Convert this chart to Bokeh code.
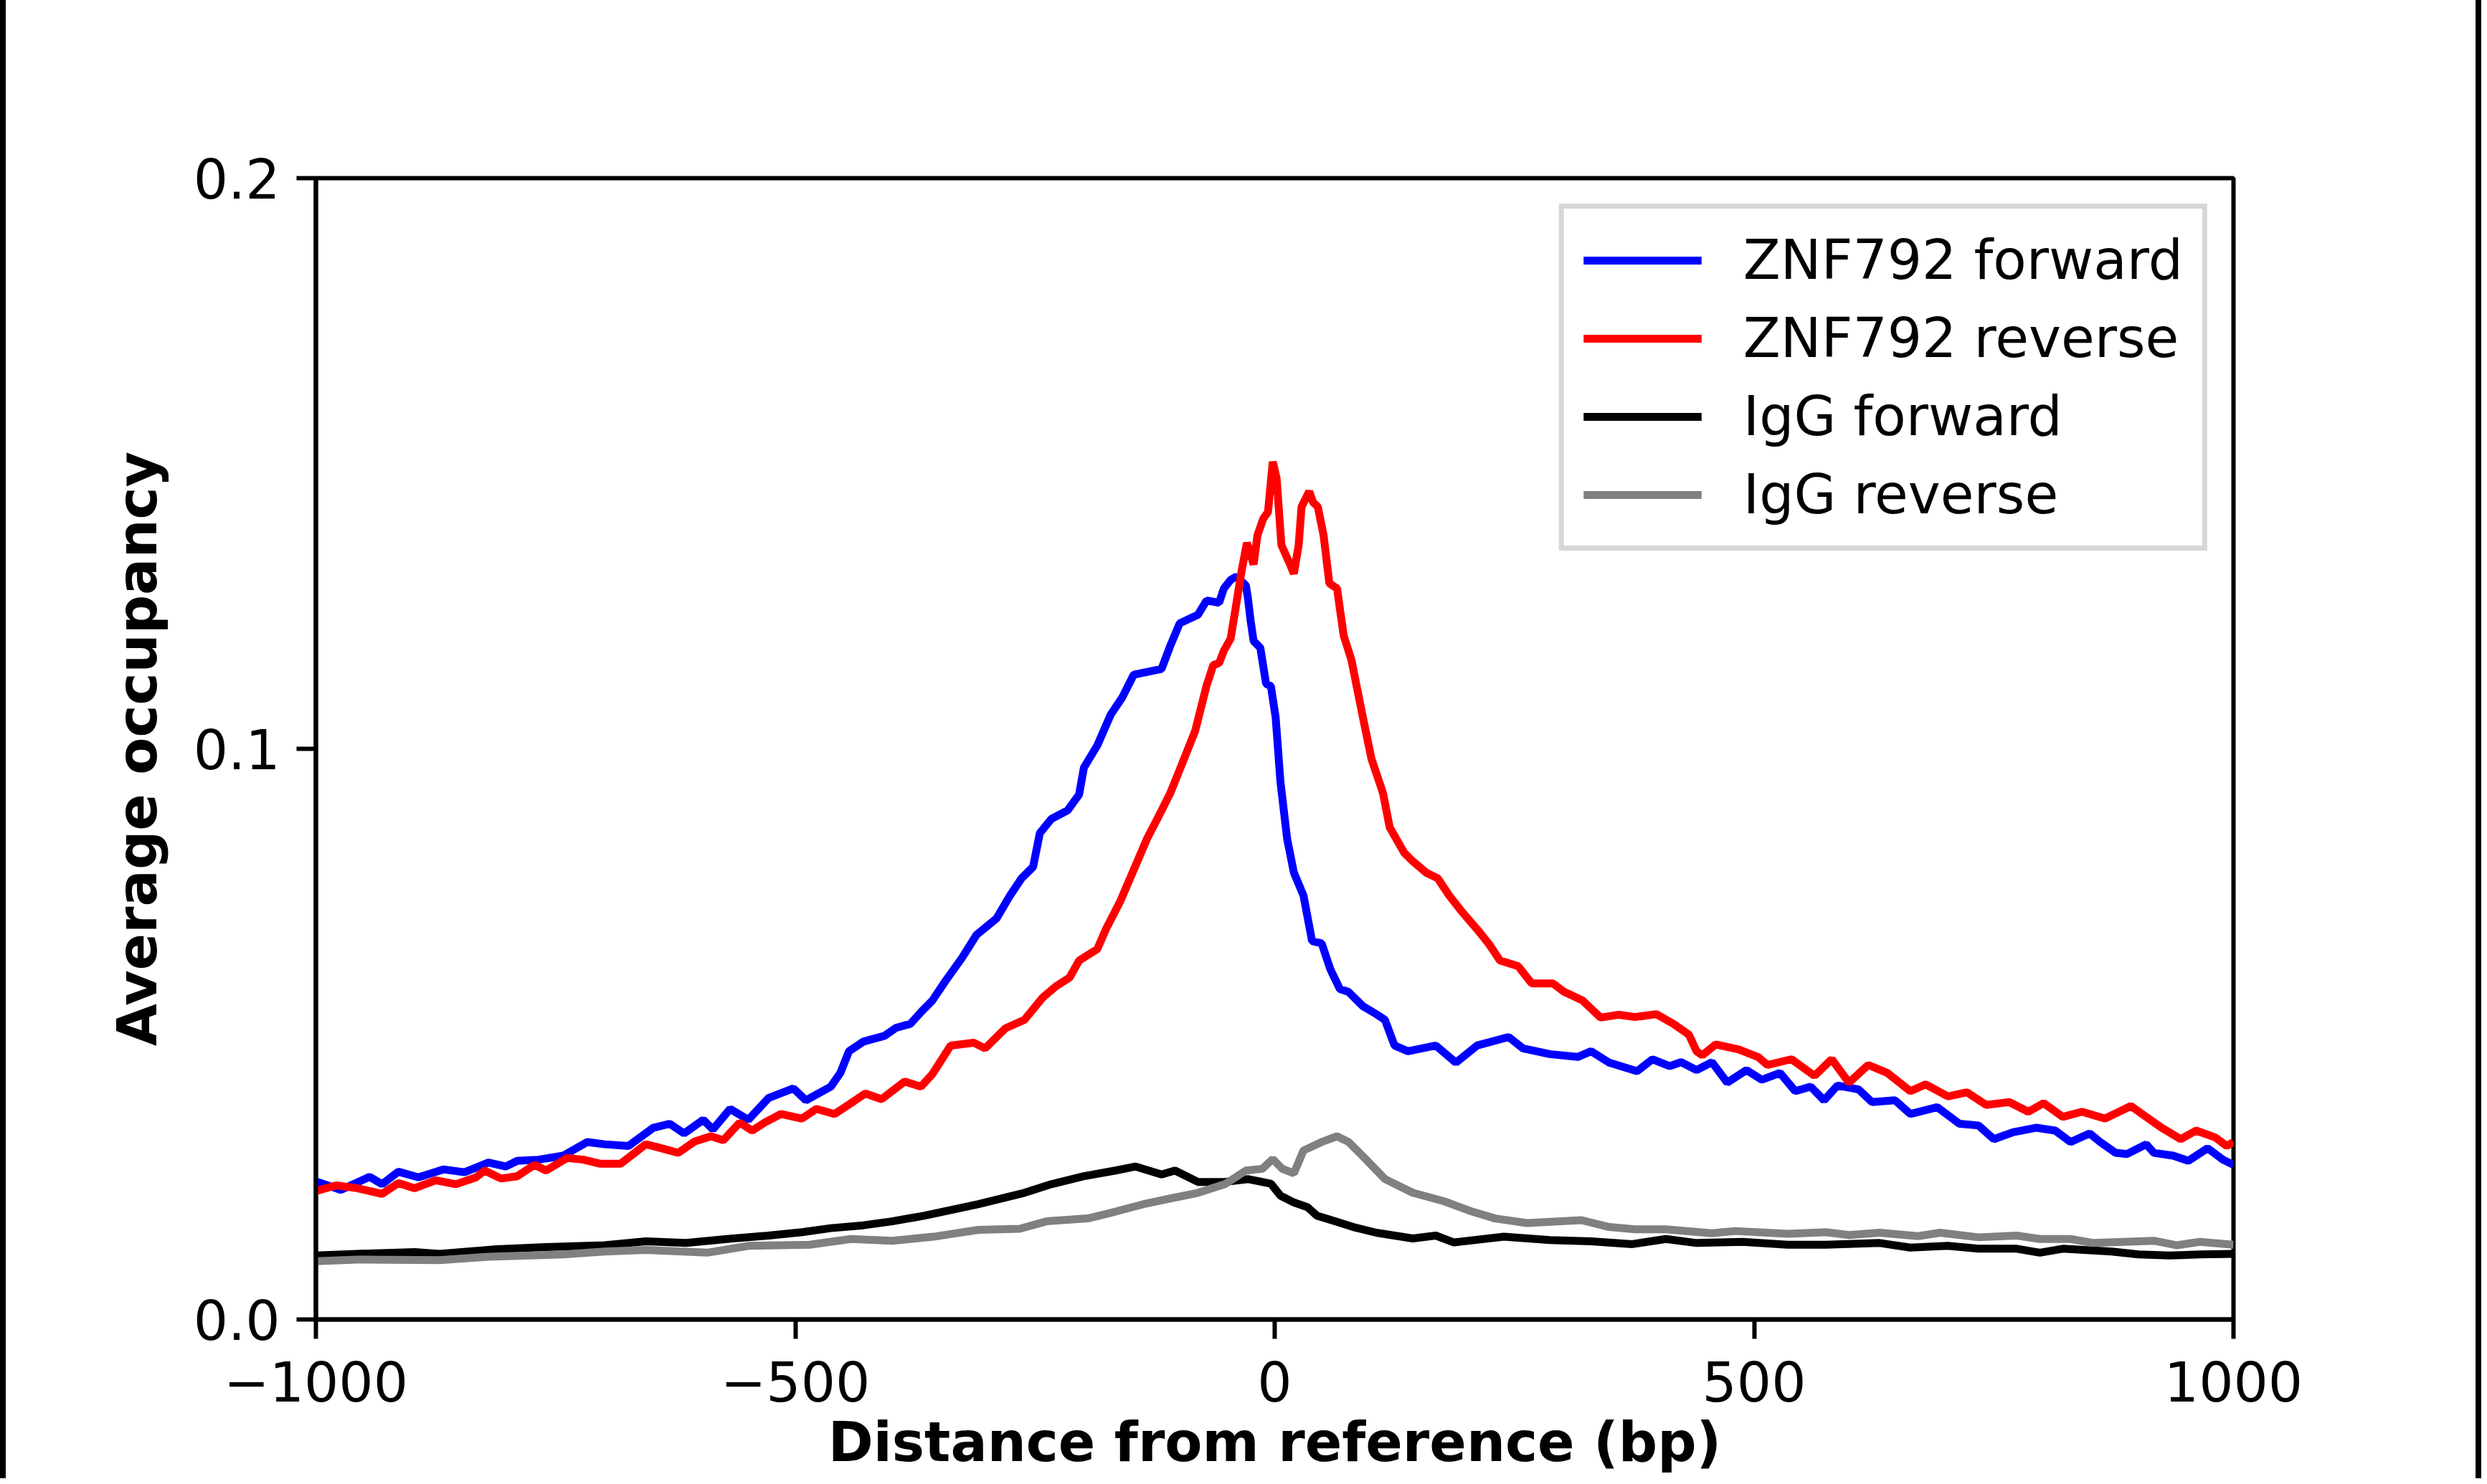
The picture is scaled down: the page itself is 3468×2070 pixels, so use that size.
from bokeh.plotting import figure
from bokeh.models import FixedTicker, Range1d, Spacer
from bokeh.layouts import row
from bokeh.embed import file_html
from bokeh.resources import INLINE

# ---- data ----
fwd_x = [-1000, -974, -944, -931, -914, -893, -867, -845, -820, -802, -790, -768, -742, -717, -699, -674,
         -648, -631, -616, -596, -586, -568, -549, -528, -502, -489, -463, -453, -444, -429, -407, -395,
         -380, -367, -357, -343, -326, -311, -290, -276, -264, -252, -245, -233, -216, -204, -199, -185,
         -171, -159, -147, -118, -109, -99, -80, -71, -58, -53, -46, -40, -30, -28, -25, -22, -15, -9,
         -4, 1, 6, 13, 20, 30, 39, 49, 58, 68, 77, 92, 106, 115, 125, 139, 168, 189, 211, 244, 259, 287,
         316, 330, 349, 378, 394, 412, 424, 440, 456, 472, 492, 508, 527, 543, 559, 573, 587, 609, 623,
         647, 663, 691, 714, 734, 750, 770, 794, 814, 830, 850, 861, 877, 889, 909, 917, 937, 953, 973,
         989, 1000]
fwd_y = [0.0242, 0.0227, 0.0250, 0.0237, 0.0259, 0.0249, 0.0263, 0.0258, 0.0275, 0.0268, 0.0278, 0.0280,
         0.0287, 0.0311, 0.0307, 0.0304, 0.0336, 0.0343, 0.0326, 0.0350, 0.0333, 0.0369, 0.0350, 0.0388,
         0.0405, 0.0384, 0.0408, 0.0432, 0.0470, 0.0487, 0.0497, 0.0511, 0.0518, 0.0542, 0.0559, 0.0594,
         0.0634, 0.0674, 0.0703, 0.0743, 0.0773, 0.0793, 0.0852, 0.0877, 0.0892, 0.0920, 0.0967, 0.1006,
         0.1060, 0.1090, 0.1130, 0.1140, 0.1180, 0.1220, 0.1235, 0.1260, 0.1256, 0.1281, 0.1296, 0.1302,
         0.1286, 0.1265, 0.1223, 0.1189, 0.1177, 0.1114, 0.1110, 0.1055, 0.0942, 0.0842, 0.0783, 0.0743,
         0.0663, 0.0659, 0.0614, 0.0579, 0.0574, 0.0549, 0.0535, 0.0525, 0.0480, 0.0470, 0.0480, 0.0450,
         0.0480, 0.0495, 0.0475, 0.0465, 0.0460, 0.0470, 0.0450, 0.0435, 0.0456, 0.0444, 0.0451, 0.0437,
         0.0451, 0.0415, 0.0437, 0.0420, 0.0432, 0.0400, 0.0408, 0.0384, 0.0410, 0.0403, 0.0381, 0.0384,
         0.0360, 0.0372, 0.0343, 0.0340, 0.0316, 0.0328, 0.0336, 0.0331, 0.0311, 0.0326, 0.0311, 0.0292,
         0.0290, 0.0307, 0.0292, 0.0287, 0.0278, 0.0300, 0.0280, 0.0271]

rev_x = [-1000, -979, -957, -931, -914, -897, -875, -854, -833, -824, -807, -790, -772, -760, -738, -721,
         -704, -682, -656, -644, -622, -605, -588, -575, -558, -545, -532, -515, -493, -478, -459, -442,
         -427, -410, -386, -369, -357, -338, -314, -302, -281, -261, -242, -228, -214, -204, -185, -176,
         -161, -147, -133, -121, -109, -97, -83, -71, -64, -58, -53, -46, -41, -35, -29, -22, -18, -12,
         -7, -2, 2, 7, 15, 20, 25, 28, 36, 40, 45, 51, 57, 65, 72, 80, 92, 101, 113, 120, 135, 144, 158,
         170, 182, 196, 211, 223, 235, 254, 268, 290, 302, 321, 340, 359, 376, 398, 416, 432, 440, 446,
         460, 484, 504, 514, 539, 563, 581, 599, 619, 639, 663, 679, 702, 722, 742, 766, 786, 802, 822,
         842, 866, 893, 909, 925, 945, 961, 981, 993, 1000]
rev_y = [0.0225, 0.0235, 0.0230, 0.0220, 0.0239, 0.0230, 0.0244, 0.0237, 0.0249, 0.0261, 0.0247, 0.0251,
         0.0271, 0.0261, 0.0283, 0.0280, 0.0273, 0.0273, 0.0307, 0.0302, 0.0292, 0.0312, 0.0321, 0.0314,
         0.0345, 0.0331, 0.0345, 0.0360, 0.0352, 0.0369, 0.0360, 0.0379, 0.0396, 0.0386, 0.0417, 0.0408,
         0.0430, 0.0480, 0.0485, 0.0475, 0.0510, 0.0525, 0.0564, 0.0584, 0.0599, 0.0629, 0.0649, 0.0684,
         0.0733, 0.0788, 0.0843, 0.0882, 0.0922, 0.0972, 0.1031, 0.1111, 0.1147, 0.1150, 0.1172, 0.1193,
         0.1244, 0.1307, 0.1361, 0.1323, 0.1374, 0.1403, 0.1415, 0.1503, 0.1474, 0.1357, 0.1327, 0.1307,
         0.1357, 0.1424, 0.1451, 0.1432, 0.1424, 0.1374, 0.1290, 0.1281, 0.1198, 0.1156, 0.1055, 0.0982,
         0.0922, 0.0862, 0.0818, 0.0803, 0.0783, 0.0773, 0.0743, 0.0713, 0.0684, 0.0659, 0.0629, 0.0619,
         0.0589, 0.0589, 0.0574, 0.0559, 0.0529, 0.0534, 0.0530, 0.0535, 0.0518, 0.0499, 0.0470, 0.0463,
         0.0482, 0.0473, 0.0460, 0.0446, 0.0456, 0.0427, 0.0456, 0.0415, 0.0446, 0.0432, 0.0400, 0.0412,
         0.0391, 0.0398, 0.0376, 0.0381, 0.0364, 0.0379, 0.0355, 0.0364, 0.0352, 0.0374, 0.0355, 0.0336,
         0.0316, 0.0331, 0.0319, 0.0304, 0.0311]

igg_fwd_x = [-1000, -957, -897, -871, -811, -760, -699, -656, -614, -571, -528, -493, -463, -429, -399,
             -365, -309, -261, -233, -199, -166, -145, -118, -104, -80, -52, -28, -4, 6, 20, 34, 44, 63,
             82, 106, 144, 168, 187, 239, 287, 330, 373, 408, 440, 488, 535, 575, 631, 663, 702, 734, 774,
             798, 822, 873, 901, 933, 965, 1000]
igg_fwd_y = [0.0112, 0.0115, 0.0118, 0.0115, 0.0123, 0.0127, 0.0130, 0.0137, 0.0134, 0.0141, 0.0147,
             0.0153, 0.0160, 0.0165, 0.0172, 0.0182, 0.0202, 0.0222, 0.0237, 0.0251, 0.0261, 0.0268,
             0.0254, 0.0261, 0.0241, 0.0241, 0.0246, 0.0238, 0.0217, 0.0205, 0.0197, 0.0182, 0.0172,
             0.0162, 0.0152, 0.0142, 0.0147, 0.0135, 0.0145, 0.0139, 0.0137, 0.0132, 0.0141, 0.0134,
             0.0136, 0.0131, 0.0131, 0.0134, 0.0126, 0.0129, 0.0124, 0.0124, 0.0117, 0.0124, 0.0119,
             0.0114, 0.0112, 0.0114, 0.0115]

igg_rev_x = [-1000, -957, -871, -820, -742, -699, -656, -592, -549, -485, -442, -399, -356, -309, -266,
             -238, -195, -166, -137, -109, -80, -52, -30, -13, -2, 8, 20, 30, 49, 65, 77, 92, 115, 144,
             177, 206, 230, 263, 320, 349, 376, 408, 456, 480, 535, 575, 599, 631, 671, 694, 734, 774,
             798, 830, 854, 917, 941, 965, 1000]
igg_rev_y = [0.0102, 0.0105, 0.0104, 0.0110, 0.0114, 0.0119, 0.0122, 0.0117, 0.0129, 0.0131, 0.0141,
             0.0138, 0.0145, 0.0157, 0.0159, 0.0172, 0.0177, 0.0189, 0.0202, 0.0212, 0.0222, 0.0237,
             0.0261, 0.0264, 0.0281, 0.0264, 0.0256, 0.0296, 0.0311, 0.0321, 0.0311, 0.0286, 0.0246,
             0.0222, 0.0207, 0.0189, 0.0177, 0.0169, 0.0174, 0.0162, 0.0158, 0.0158, 0.0151, 0.0155,
             0.0150, 0.0153, 0.0148, 0.0152, 0.0146, 0.0152, 0.0144, 0.0147, 0.0141, 0.0141, 0.0134,
             0.0138, 0.0130, 0.0136, 0.0131]

series_labels = ["ZNF792 forward", "ZNF792 reverse", "IgG forward", "IgG reverse"]
series_colors = ["#0000ff", "#ff0000", "#000000", "#808080"]

x_ticks = [-1000, -500, 0, 500, 1000]
x_tick_labels = ["\u22121000", "\u2212500", "0", "500", "1000"]
y_ticks = [0.0, 0.1, 0.2]
y_tick_labels = ["0.0", "0.1", "0.2"]
x_title = "Distance from reference (bp)"
y_title = "Average occupancy"

FONT = "DejaVu Sans"
FS = "76px"
STRIP = 8
W, H = 3444, 2062
OX = STRIP  # page x where the figure starts

p = figure(width=W, height=H, output_backend="svg", toolbar_location=None,
           title=None,
           x_range=Range1d(-1000, 1000), y_range=Range1d(0, 0.2),
           min_border_left=440 - OX, min_border_right=W - (3114 - OX), min_border_top=248,
           min_border_bottom=H - 1840,
           background_fill_color="white", border_fill_color="white")

data = [(fwd_x, fwd_y), (rev_x, rev_y), (igg_fwd_x, igg_fwd_y), (igg_rev_x, igg_rev_y)]
for (xs, ys), lab, col in zip(data, series_labels, series_colors):
    p.line(xs, ys, line_color=col, line_width=11, legend_label=lab)

p.xgrid.visible = False
p.ygrid.visible = False
p.outline_line_color = "black"
p.outline_line_width = 6

p.xaxis.ticker = FixedTicker(ticks=x_ticks)
p.xaxis.major_label_overrides = {t: l for t, l in zip(x_ticks, x_tick_labels)}
p.yaxis.ticker = FixedTicker(ticks=y_ticks)
p.yaxis.major_label_overrides = {t: l for t, l in zip(y_ticks, y_tick_labels)}

for ax in (p.xaxis, p.yaxis):
    ax.axis_line_color = "black"
    ax.axis_line_width = 6
    ax.major_tick_line_color = "black"
    ax.major_tick_line_width = 6
    ax.major_tick_in = 0
    ax.major_tick_out = 27
    ax.minor_tick_line_color = None
    ax.major_label_text_font = FONT
    ax.major_label_text_font_size = FS
    ax.major_label_text_color = "black"
    ax.axis_label_text_font = FONT
    ax.axis_label_text_font_size = FS
    ax.axis_label_text_font_style = "bold"
    ax.axis_label_text_color = "black"

p.xaxis.axis_label = x_title
p.yaxis.axis_label = y_title
p.xaxis.major_label_standoff = 31
p.xaxis.axis_label_standoff = 9
p.yaxis.major_label_standoff = 23
p.yaxis.axis_label_standoff = 31

leg = p.legend[0]
leg.location = "top_right"
leg.margin = 36
leg.padding = 27
leg.spacing = 20
leg.glyph_width = 165
leg.glyph_height = 76
leg.label_height = 76
leg.label_standoff = 58
leg.label_text_font = FONT
leg.label_text_font_size = FS
leg.label_text_color = "black"
leg.border_line_color = "#cccccc"
leg.border_line_width = 7
leg.border_line_alpha = 0.8
leg.background_fill_color = "white"
leg.background_fill_alpha = 0.8

left_strip = Spacer(width=STRIP, height=H, styles={"background-color": "black"})
right_strip = Spacer(width=STRIP, height=H, styles={"background-color": "black"})
layout = row(left_strip, p, right_strip, spacing=0)

open("out.html", "w").write(file_html(layout, INLINE))
